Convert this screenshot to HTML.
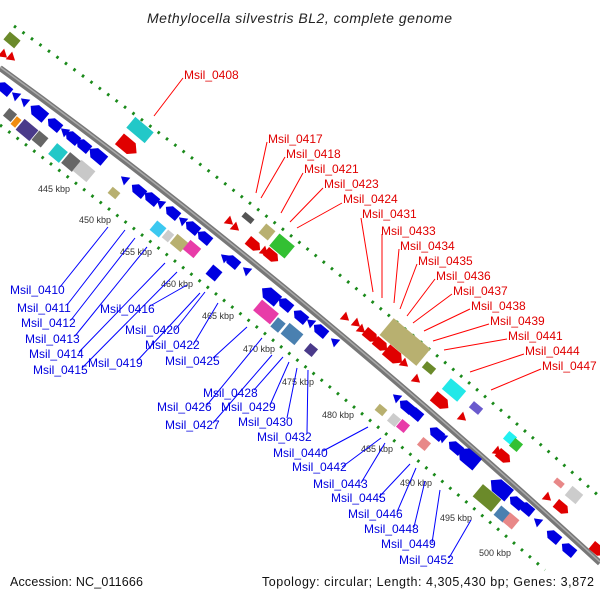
<!DOCTYPE html>
<html><head><meta charset="utf-8"><style>
html,body{margin:0;padding:0;background:#fff;width:600px;height:600px;overflow:hidden}
svg{display:block}
.r{fill:#e00000;font-family:"Liberation Sans",sans-serif;font-size:12px}
.b{fill:#0000e0;font-family:"Liberation Sans",sans-serif;font-size:12px}
.k{fill:#333;font-family:"Liberation Sans",sans-serif;font-size:9px}
.rl{stroke:#f00;stroke-width:1}
.bl{stroke:#00f;stroke-width:1}
</style></head><body>
<svg width="600" height="600" viewBox="0 0 600 600" xmlns="http://www.w3.org/2000/svg">
<defs>
<polygon id="ar" points="-8,-5 3,-5 8,0 3,5 -8,5"/>
<polygon id="al" points="8,-5 -3,-5 -8,0 -3,5 8,5"/>
<polygon id="tr" points="-4,-5 4,0 -4,5"/>
<polygon id="tl" points="4,-5 -4,0 4,5"/>
</defs>
<text x="147" y="23" textLength="305" lengthAdjust="spacing" font-family="Liberation Sans,sans-serif" font-style="italic" font-size="14" fill="#222">Methylocella silvestris BL2, complete genome</text>

<path d="M14,26 Q300,230 600,497" fill="none" stroke="#1a8a1a" stroke-width="3" stroke-dasharray="2.5,8"/>
<path d="M0,125 Q270,330 545,570" fill="none" stroke="#1a8a1a" stroke-width="3" stroke-dasharray="2.5,8"/>
<path d="M0,68 Q290,278 600,563" fill="none" stroke="#777" stroke-width="6"/>
<path d="M0,67 Q290,277 600,562" fill="none" stroke="#aaa" stroke-width="1.5"/>

<g fill="#e00000">
<g transform="translate(4,55) rotate(40)"><use href="#tr"/></g>
<g transform="translate(12,58) rotate(40)"><use href="#tr"/></g>
<g transform="translate(128,146) rotate(40) scale(1.4)"><use href="#ar"/></g>
<g transform="translate(230,222) rotate(40)"><use href="#tr"/></g>
<g transform="translate(236,228) rotate(40)"><use href="#tr"/></g>
<g transform="translate(254,245) rotate(40)"><use href="#ar"/></g>
<g transform="translate(265,252) rotate(40)"><use href="#tr"/></g>
<g transform="translate(272,256) rotate(40)"><use href="#ar"/></g>
<g transform="translate(346,318) rotate(40)"><use href="#tr"/></g>
<g transform="translate(357,324) rotate(40)"><use href="#tr"/></g>
<g transform="translate(362,330) rotate(40)"><use href="#tr"/></g>
<g transform="translate(371,336) rotate(40)"><use href="#ar"/></g>
<g transform="translate(381,345) rotate(40)"><use href="#ar"/></g>
<g transform="translate(394,356) rotate(40) scale(1.3)"><use href="#ar"/></g>
<g transform="translate(405,364) rotate(40)"><use href="#tr"/></g>
<g transform="translate(417,380) rotate(40)"><use href="#tr"/></g>
<g transform="translate(441,402) rotate(40) scale(1.2)"><use href="#ar"/></g>
<g transform="translate(463,418) rotate(40)"><use href="#tr"/></g>
<g transform="translate(498,452) rotate(40)"><use href="#tr"/></g>
<g transform="translate(504,457) rotate(40)"><use href="#ar"/></g>
<g transform="translate(548,498) rotate(40)"><use href="#tr"/></g>
<g transform="translate(562,508) rotate(40)"><use href="#ar"/></g>
<g transform="translate(598,550) rotate(40)"><use href="#ar"/></g>
</g>
<g transform="translate(12,40) rotate(40)"><rect x="-7" y="-5" width="14" height="10" fill="#6b8a2a"/></g>
<g transform="translate(140,130) rotate(40)"><rect x="-12" y="-7" width="24" height="14" fill="#22c8c8"/></g>
<g transform="translate(248,218) rotate(40)"><rect x="-6" y="-3" width="12" height="6" fill="#555"/></g>
<g transform="translate(267,232) rotate(40)"><rect x="-6" y="-6" width="12" height="12" fill="#b8b070"/></g>
<g transform="translate(282,246) rotate(40)"><rect x="-10" y="-8" width="20" height="16" fill="#33c033"/></g>
<g transform="translate(405,342) rotate(40)"><rect x="-24" y="-11" width="48" height="22" fill="#b8b070"/></g>
<g transform="translate(429,368) rotate(40)"><rect x="-6" y="-4" width="12" height="8" fill="#6b8a2a"/></g>
<g transform="translate(454,390) rotate(40)"><rect x="-10" y="-7" width="20" height="14" fill="#22e8e8"/></g>
<g transform="translate(476,408) rotate(40)"><rect x="-6" y="-4" width="12" height="8" fill="#6a5acd"/></g>
<g transform="translate(510,438) rotate(40)"><rect x="-5" y="-5" width="10" height="10" fill="#22f0f0"/></g>
<g transform="translate(516,445) rotate(40)"><rect x="-5" y="-5" width="10" height="10" fill="#33c033"/></g>
<g transform="translate(559,483) rotate(40)"><rect x="-5" y="-3" width="10" height="6" fill="#e88888"/></g>
<g transform="translate(574,495) rotate(40)"><rect x="-7" y="-6" width="14" height="12" fill="#ccc"/></g>

<g fill="#0000e0">
<g transform="translate(4,88) rotate(40)"><use href="#al"/></g>
<g transform="translate(15,95) rotate(40)"><use href="#tl"/></g>
<g transform="translate(24,101) rotate(40)"><use href="#tl"/></g>
<g transform="translate(38,112) rotate(40) scale(1.2)"><use href="#al"/></g>
<g transform="translate(54,124) rotate(40)"><use href="#al"/></g>
<g transform="translate(64,131) rotate(40)"><use href="#tl"/></g>
<g transform="translate(72,137) rotate(40)"><use href="#al"/></g>
<g transform="translate(83,145) rotate(40)"><use href="#al"/></g>
<g transform="translate(97,155) rotate(40) scale(1.2)"><use href="#al"/></g>
<g transform="translate(124,179) rotate(40)"><use href="#tl"/></g>
<g transform="translate(138,190) rotate(40)"><use href="#al"/></g>
<g transform="translate(151,198) rotate(40)"><use href="#al"/></g>
<g transform="translate(160,203) rotate(40)"><use href="#tl"/></g>
<g transform="translate(172,212) rotate(40)"><use href="#al"/></g>
<g transform="translate(182,220) rotate(40)"><use href="#tl"/></g>
<g transform="translate(192,227) rotate(40)"><use href="#al"/></g>
<g transform="translate(204,237) rotate(40)"><use href="#al"/></g>
<g transform="translate(224,257) rotate(40)"><use href="#tl"/></g>
<g transform="translate(232,261) rotate(40)"><use href="#al"/></g>
<g transform="translate(246,270) rotate(40)"><use href="#tl"/></g>
<g transform="translate(270,295) rotate(40) scale(1.3)"><use href="#al"/></g>
<g transform="translate(285,304) rotate(40)"><use href="#al"/></g>
<g transform="translate(300,316) rotate(40)"><use href="#al"/></g>
<g transform="translate(310,322) rotate(40)"><use href="#tl"/></g>
<g transform="translate(320,330) rotate(40)"><use href="#al"/></g>
<g transform="translate(334,341) rotate(40)"><use href="#tl"/></g>
<g transform="translate(396,397) rotate(40)"><use href="#tl"/></g>
<g transform="translate(406,406) rotate(40)"><use href="#al"/></g>
<g transform="translate(415,413) rotate(40)"><use href="#al"/></g>
<g transform="translate(436,433) rotate(40)"><use href="#al"/></g>
<g transform="translate(442,437) rotate(40)"><use href="#tl"/></g>
<g transform="translate(455,447) rotate(40)"><use href="#al"/></g>
<g transform="translate(468,457) rotate(40) scale(1.5)"><use href="#al"/></g>
<g transform="translate(500,488) rotate(40) scale(1.5)"><use href="#al"/></g>
<g transform="translate(516,502) rotate(40)"><use href="#al"/></g>
<g transform="translate(526,508) rotate(40)"><use href="#al"/></g>
<g transform="translate(537,521) rotate(40)"><use href="#tl"/></g>
<g transform="translate(553,536) rotate(40)"><use href="#al"/></g>
<g transform="translate(568,549) rotate(40)"><use href="#al"/></g>
</g>
<g transform="translate(10,115) rotate(40)"><rect x="-5" y="-5" width="10" height="10" fill="#666"/></g>
<g transform="translate(16,122) rotate(40)"><rect x="-3" y="-5" width="6" height="10" fill="#f08c10"/></g>
<g transform="translate(27,130) rotate(40)"><rect x="-9" y="-7" width="18" height="14" fill="#4a3a8a"/></g>
<g transform="translate(40,139) rotate(40)"><rect x="-6" y="-6" width="12" height="12" fill="#666"/></g>
<g transform="translate(58,153) rotate(40)"><rect x="-7" y="-7" width="14" height="14" fill="#22c8c8"/></g>
<g transform="translate(71,162) rotate(40)"><rect x="-7" y="-7" width="14" height="14" fill="#666"/></g>
<g transform="translate(84,171) rotate(40)"><rect x="-9" y="-7" width="18" height="14" fill="#c8c8c8"/></g>
<g transform="translate(114,193) rotate(40)"><rect x="-5" y="-4" width="10" height="8" fill="#b8b070"/></g>
<g transform="translate(158,229) rotate(40)"><rect x="-6" y="-6" width="12" height="12" fill="#3cc8f0"/></g>
<g transform="translate(168,236) rotate(40)"><rect x="-4" y="-5" width="8" height="10" fill="#ccc"/></g>
<g transform="translate(179,243) rotate(40)"><rect x="-7" y="-6" width="14" height="12" fill="#b8b070"/></g>
<g transform="translate(192,249) rotate(40)"><rect x="-7" y="-6" width="14" height="12" fill="#e83ca8"/></g>
<g transform="translate(214,273) rotate(40)"><rect x="-6" y="-6" width="12" height="12" fill="#0000e0"/></g>
<g transform="translate(266,312) rotate(40)"><rect x="-11" y="-7" width="22" height="14" fill="#e83ca8"/></g>
<g transform="translate(278,325) rotate(40)"><rect x="-5" y="-6" width="10" height="12" fill="#4a80b0"/></g>
<g transform="translate(292,334) rotate(40)"><rect x="-9" y="-7" width="18" height="14" fill="#4a80b0"/></g>
<g transform="translate(311,350) rotate(40)"><rect x="-5" y="-5" width="10" height="10" fill="#4a3a8a"/></g>
<g transform="translate(381,410) rotate(40)"><rect x="-5" y="-4" width="10" height="8" fill="#b8b070"/></g>
<g transform="translate(394,420) rotate(40)"><rect x="-5" y="-5" width="10" height="10" fill="#ccc"/></g>
<g transform="translate(403,426) rotate(40)"><rect x="-5" y="-5" width="10" height="10" fill="#e83ca8"/></g>
<g transform="translate(424,444) rotate(40)"><rect x="-5" y="-5" width="10" height="10" fill="#e88888"/></g>
<g transform="translate(487,498) rotate(40)"><rect x="-12" y="-8" width="24" height="16" fill="#6b8a2a"/></g>
<g transform="translate(502,514) rotate(40)"><rect x="-6" y="-6" width="12" height="12" fill="#4a80b0"/></g>
<g transform="translate(511,521) rotate(40)"><rect x="-6" y="-6" width="12" height="12" fill="#e88888"/></g>

<text class="k" x="38" y="192">445 kbp</text>
<text class="k" x="79" y="223">450 kbp</text>
<text class="k" x="120" y="255">455 kbp</text>
<text class="k" x="161" y="287">460 kbp</text>
<text class="k" x="202" y="319">465 kbp</text>
<text class="k" x="243" y="352">470 kbp</text>
<text class="k" x="282" y="385">475 kbp</text>
<text class="k" x="322" y="418">480 kbp</text>
<text class="k" x="361" y="452">485 kbp</text>
<text class="k" x="400" y="486">490 kbp</text>
<text class="k" x="440" y="521">495 kbp</text>
<text class="k" x="479" y="556">500 kbp</text>

<g class="rl">
<line x1="183" y1="78" x2="154" y2="116"/>
<line x1="267" y1="142" x2="256" y2="193"/>
<line x1="285" y1="157" x2="261" y2="198"/>
<line x1="303" y1="173" x2="281" y2="213"/>
<line x1="323" y1="188" x2="290" y2="222"/>
<line x1="342" y1="203" x2="297" y2="228"/>
<line x1="361" y1="218" x2="373" y2="292"/>
<line x1="382" y1="234" x2="382" y2="298"/>
<line x1="399" y1="249" x2="394" y2="303"/>
<line x1="417" y1="264" x2="400" y2="309"/>
<line x1="435" y1="279" x2="407" y2="316"/>
<line x1="452" y1="294" x2="413" y2="323"/>
<line x1="470" y1="309" x2="424" y2="331"/>
<line x1="489" y1="324" x2="433" y2="341"/>
<line x1="507" y1="339" x2="444" y2="350"/>
<line x1="524" y1="354" x2="470" y2="372"/>
<line x1="541" y1="369" x2="491" y2="390"/>
</g>
<text class="r" x="184" y="79">Msil_0408</text>
<text class="r" x="268" y="143">Msil_0417</text>
<text class="r" x="286" y="158">Msil_0418</text>
<text class="r" x="304" y="173">Msil_0421</text>
<text class="r" x="324" y="188">Msil_0423</text>
<text class="r" x="343" y="203">Msil_0424</text>
<text class="r" x="362" y="218">Msil_0431</text>
<text class="r" x="381" y="235">Msil_0433</text>
<text class="r" x="400" y="250">Msil_0434</text>
<text class="r" x="418" y="265">Msil_0435</text>
<text class="r" x="436" y="280">Msil_0436</text>
<text class="r" x="453" y="295">Msil_0437</text>
<text class="r" x="471" y="310">Msil_0438</text>
<text class="r" x="490" y="325">Msil_0439</text>
<text class="r" x="508" y="340">Msil_0441</text>
<text class="r" x="525" y="355">Msil_0444</text>
<text class="r" x="542" y="370">Msil_0447</text>

<g class="bl">
<line x1="60" y1="287" x2="108" y2="227"/>
<line x1="67" y1="305" x2="125" y2="230"/>
<line x1="71" y1="320" x2="135" y2="238"/>
<line x1="75" y1="336" x2="147" y2="247"/>
<line x1="79" y1="352" x2="165" y2="263"/>
<line x1="82" y1="368" x2="177" y2="272"/>
<line x1="150" y1="306" x2="187" y2="285"/>
<line x1="137" y1="361" x2="200" y2="293"/>
<line x1="175" y1="330" x2="205" y2="292"/>
<line x1="193" y1="345" x2="218" y2="303"/>
<line x1="213" y1="358" x2="247" y2="327"/>
<line x1="207" y1="405" x2="262" y2="338"/>
<line x1="213" y1="423" x2="272" y2="355"/>
<line x1="254" y1="390" x2="283" y2="357"/>
<line x1="270" y1="405" x2="289" y2="362"/>
<line x1="287" y1="418" x2="297" y2="368"/>
<line x1="307" y1="433" x2="308" y2="370"/>
<line x1="323" y1="451" x2="368" y2="427"/>
<line x1="342" y1="467" x2="381" y2="438"/>
<line x1="361" y1="483" x2="385" y2="443"/>
<line x1="379" y1="497" x2="410" y2="464"/>
<line x1="397" y1="512" x2="416" y2="468"/>
<line x1="414" y1="527" x2="425" y2="481"/>
<line x1="432" y1="543" x2="440" y2="490"/>
<line x1="449" y1="558" x2="471" y2="520"/>
</g>
<text class="b" x="10" y="294">Msil_0410</text>
<text class="b" x="17" y="312">Msil_0411</text>
<text class="b" x="21" y="327">Msil_0412</text>
<text class="b" x="25" y="343">Msil_0413</text>
<text class="b" x="29" y="358">Msil_0414</text>
<text class="b" x="33" y="374">Msil_0415</text>
<text class="b" x="100" y="313">Msil_0416</text>
<text class="b" x="88" y="367">Msil_0419</text>
<text class="b" x="125" y="334">Msil_0420</text>
<text class="b" x="145" y="349">Msil_0422</text>
<text class="b" x="165" y="365">Msil_0425</text>
<text class="b" x="157" y="411">Msil_0426</text>
<text class="b" x="165" y="429">Msil_0427</text>
<text class="b" x="203" y="397">Msil_0428</text>
<text class="b" x="221" y="411">Msil_0429</text>
<text class="b" x="238" y="426">Msil_0430</text>
<text class="b" x="257" y="441">Msil_0432</text>
<text class="b" x="273" y="457">Msil_0440</text>
<text class="b" x="292" y="471">Msil_0442</text>
<text class="b" x="313" y="488">Msil_0443</text>
<text class="b" x="331" y="502">Msil_0445</text>
<text class="b" x="348" y="518">Msil_0446</text>
<text class="b" x="364" y="533">Msil_0448</text>
<text class="b" x="381" y="548">Msil_0449</text>
<text class="b" x="399" y="564">Msil_0452</text>

<text x="10" y="586" textLength="133" lengthAdjust="spacing" font-family="Liberation Sans,sans-serif" font-size="12.5" fill="#111">Accession: NC_011666</text>
<text x="262" y="586" textLength="332" lengthAdjust="spacing" font-family="Liberation Sans,sans-serif" font-size="12.5" fill="#111">Topology: circular; Length: 4,305,430 bp; Genes: 3,872</text>
</svg>
</body></html>
